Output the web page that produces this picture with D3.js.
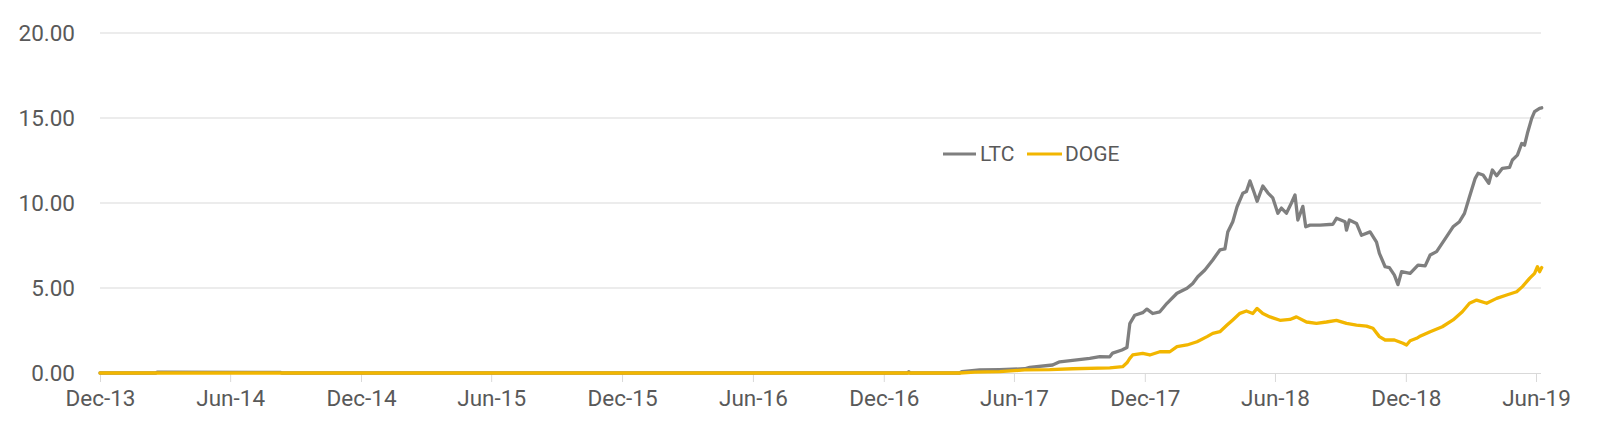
<!DOCTYPE html>
<html>
<head>
<meta charset="utf-8">
<script src="https://cdn.jsdelivr.net/npm/d3@7"></script>
<style>
  html, body { margin: 0; padding: 0; background: #ffffff; }
  svg { display: block; }
  text { font-family: Roboto, "Noto Sans", sans-serif; fill: #595959; }
</style>
</head>
<body>
<svg id="chart" width="1600" height="435"></svg>
<script>
// ---- Data ----
const seriesNames = ["LTC", "DOGE"];
const yTickValues = [0, 5, 10, 15, 20];
const xTickLabels = ["Dec-13","Jun-14","Dec-14","Jun-15","Dec-15","Jun-16","Dec-16","Jun-17","Dec-17","Jun-18","Dec-18","Jun-19"];

const ltcDates = [
  "2013-12-01","2014-02-17","2014-02-19","2014-08-10","2014-08-12","2017-01-03","2017-01-05","2017-01-07","2017-03-17",
  "2017-03-20","2017-04-14","2017-05-12","2017-06-16","2017-06-23","2017-07-25","2017-08-04","2017-08-25","2017-09-15",
  "2017-09-29","2017-10-13","2017-10-17","2017-10-30","2017-11-06","2017-11-10","2017-11-17","2017-11-28","2017-12-04",
  "2017-12-12","2017-12-22","2018-01-01","2018-01-15","2018-01-29","2018-02-06","2018-02-13","2018-02-23","2018-03-06",
  "2018-03-16","2018-03-23","2018-03-27","2018-04-03","2018-04-09","2018-04-17","2018-04-22","2018-04-27","2018-05-03",
  "2018-05-07","2018-05-15","2018-05-22","2018-05-29","2018-06-05","2018-06-10","2018-06-17","2018-06-24","2018-06-29",
  "2018-07-03","2018-07-10","2018-07-14","2018-07-20","2018-08-03","2018-08-21","2018-08-26","2018-09-07","2018-09-09",
  "2018-09-13","2018-09-23","2018-09-30","2018-10-12","2018-10-21","2018-10-25","2018-11-02","2018-11-08","2018-11-15",
  "2018-11-20","2018-11-25","2018-12-07","2018-12-18","2018-12-28","2019-01-04","2019-01-13","2019-01-27","2019-02-05",
  "2019-02-14","2019-02-21","2019-02-28","2019-03-08","2019-03-12","2019-03-19","2019-03-27","2019-04-01","2019-04-07",
  "2019-04-15","2019-04-25","2019-04-29","2019-05-06","2019-05-12","2019-05-16","2019-05-20","2019-05-26","2019-05-30",
  "2019-06-06","2019-06-09"
];
const ltcValues = [
  0, 0, 0.05, 0.04, 0, 0, 0.08, 0, 0,
  0.08, 0.18, 0.2, 0.25, 0.33, 0.47, 0.66, 0.76, 0.86,
  0.96, 0.95, 1.17, 1.35, 1.5, 2.9, 3.4, 3.55, 3.76,
  3.5, 3.6, 4.1, 4.69, 4.98, 5.27, 5.66, 6.06, 6.65,
  7.24, 7.3, 8.3, 8.9, 9.78, 10.57, 10.67, 11.3, 10.6,
  10.1, 11.0, 10.6, 10.3, 9.4, 9.7, 9.4, 10.0, 10.47,
  9.0, 9.8, 8.6, 8.7, 8.7, 8.75, 9.1, 8.9, 8.4,
  9.0, 8.8, 8.1, 8.3, 7.7, 7.04, 6.25, 6.2, 5.76,
  5.2, 5.96, 5.86, 6.35, 6.3, 6.94, 7.14, 8.02, 8.6,
  8.9, 9.39, 10.37, 11.45, 11.75, 11.65, 11.16, 11.94, 11.6,
  12.04, 12.1, 12.53, 12.82, 13.5, 13.4, 14.1, 14.98, 15.37,
  15.57, 15.6
];

const dogeDates = [
  "2013-12-01","2017-03-17","2017-04-07","2017-05-12","2017-06-16","2017-07-21","2017-08-22","2017-10-13","2017-10-31",
  "2017-11-06","2017-11-10","2017-11-14","2017-11-28","2017-12-08","2017-12-22","2018-01-05","2018-01-15","2018-01-29",
  "2018-02-12","2018-02-26","2018-03-06","2018-03-16","2018-03-26","2018-04-03","2018-04-13","2018-04-22","2018-05-01",
  "2018-05-07","2018-05-15","2018-05-25","2018-06-08","2018-06-22","2018-07-01","2018-07-15","2018-07-29","2018-08-12",
  "2018-08-26","2018-09-09","2018-09-23","2018-10-07","2018-10-16","2018-10-25","2018-11-02","2018-11-15","2018-11-27",
  "2018-12-02","2018-12-07","2018-12-16","2018-12-20","2019-01-04","2019-01-21","2019-02-05","2019-02-18","2019-02-28",
  "2019-03-10","2019-03-24","2019-04-07","2019-04-21","2019-05-05","2019-05-13","2019-05-23","2019-05-30","2019-06-03",
  "2019-06-06","2019-06-09"
];
const dogeValues = [
  0, 0, 0.05, 0.08, 0.18, 0.2, 0.25, 0.3, 0.37,
  0.6, 0.86, 1.06, 1.16, 1.06, 1.25, 1.25, 1.55, 1.65,
  1.84, 2.14, 2.33, 2.43, 2.82, 3.12, 3.51, 3.65, 3.5,
  3.8, 3.5, 3.3, 3.1, 3.15, 3.3, 3.0, 2.92, 3.0,
  3.1, 2.92, 2.82, 2.76, 2.63, 2.14, 1.94, 1.94, 1.75,
  1.65, 1.9, 2.04, 2.14, 2.43, 2.72, 3.12, 3.6, 4.1,
  4.29, 4.1, 4.39, 4.59, 4.78, 5.08, 5.57, 5.86, 6.25,
  5.96, 6.2
];

const colors = { LTC: "#7f7f7f", DOGE: "#f2b600" };

// ---- Layout ----
const plotLeft = 100, plotRight = 1541, plotTop = 33, plotBottom = 373;
const parse = d3.timeParse("%Y-%m-%d");
const xStart = parse("2013-12-01"), xTickEnd = parse("2019-06-01");

const x = d3.scaleTime().domain([xStart, xTickEnd]).range([plotLeft, 1536]);
const y = d3.scaleLinear().domain([0, 20]).range([plotBottom, plotTop]);

const svg = d3.select("#chart");

// gridlines
svg.append("g").selectAll("line").data(yTickValues.filter(v => v > 0)).join("line")
  .attr("x1", plotLeft).attr("x2", plotRight)
  .attr("y1", d => y(d)).attr("y2", d => y(d))
  .attr("stroke", "#d9d9d9").attr("stroke-width", 1);

// y axis labels
const yAxis = d3.axisLeft(y).tickValues(yTickValues).tickSize(0).tickPadding(0)
  .tickFormat(d3.format(".2f"));
const yg = svg.append("g").attr("transform", `translate(75,0)`).call(yAxis);
yg.select(".domain").remove();
yg.selectAll("text").attr("font-size", 22.5).attr("fill", "#595959")
  .style("font-family", "Roboto, 'Noto Sans', sans-serif").attr("dy", "0.35em");

// x axis: one tick every 6 months starting Dec-13
const xTicks = xTickLabels.map((_, i) => d3.timeMonth.offset(xStart, 6 * i));
const xAxis = d3.axisBottom(x).tickValues(xTicks).tickSize(9).tickPadding(8)
  .tickFormat((d, i) => xTickLabels[i]);
const xg = svg.append("g").attr("transform", `translate(0,${plotBottom})`).call(xAxis);
xg.select(".domain").attr("d", `M${plotLeft},0.5H${plotRight}`).attr("stroke", "#d9d9d9");
xg.selectAll(".tick line").attr("stroke", "#d9d9d9");
xg.selectAll("text").attr("font-size", 22.5).attr("fill", "#595959")
  .style("font-family", "Roboto, 'Noto Sans', sans-serif");

// lines
const line = d3.line().x(d => x(d.date)).y(d => y(d.value)).curve(d3.curveLinear);
const ltcData = ltcDates.map((d, i) => ({ date: parse(d), value: ltcValues[i] }));
const dogeData = dogeDates.map((d, i) => ({ date: parse(d), value: dogeValues[i] }));

svg.append("path").datum(ltcData).attr("d", line)
  .attr("fill", "none").attr("stroke", colors.LTC).attr("stroke-width", 3.3)
  .attr("stroke-linejoin", "round").attr("stroke-linecap", "round");
svg.append("path").datum(dogeData).attr("d", line)
  .attr("fill", "none").attr("stroke", colors.DOGE).attr("stroke-width", 3.3)
  .attr("stroke-linejoin", "round").attr("stroke-linecap", "round");

// legend
const legendItems = [
  { name: seriesNames[0], x1: 943, x2: 976, tx: 980 },
  { name: seriesNames[1], x1: 1027, x2: 1062, tx: 1065 }
];
const lg = svg.append("g");
legendItems.forEach(it => {
  lg.append("line").attr("x1", it.x1).attr("x2", it.x2).attr("y1", 154).attr("y2", 154)
    .attr("stroke", colors[it.name]).attr("stroke-width", 3);
  lg.append("text").attr("x", it.tx).attr("y", 154).attr("dy", "0.35em")
    .attr("font-size", 21).text(it.name);
});
</script>
</body>
</html>
